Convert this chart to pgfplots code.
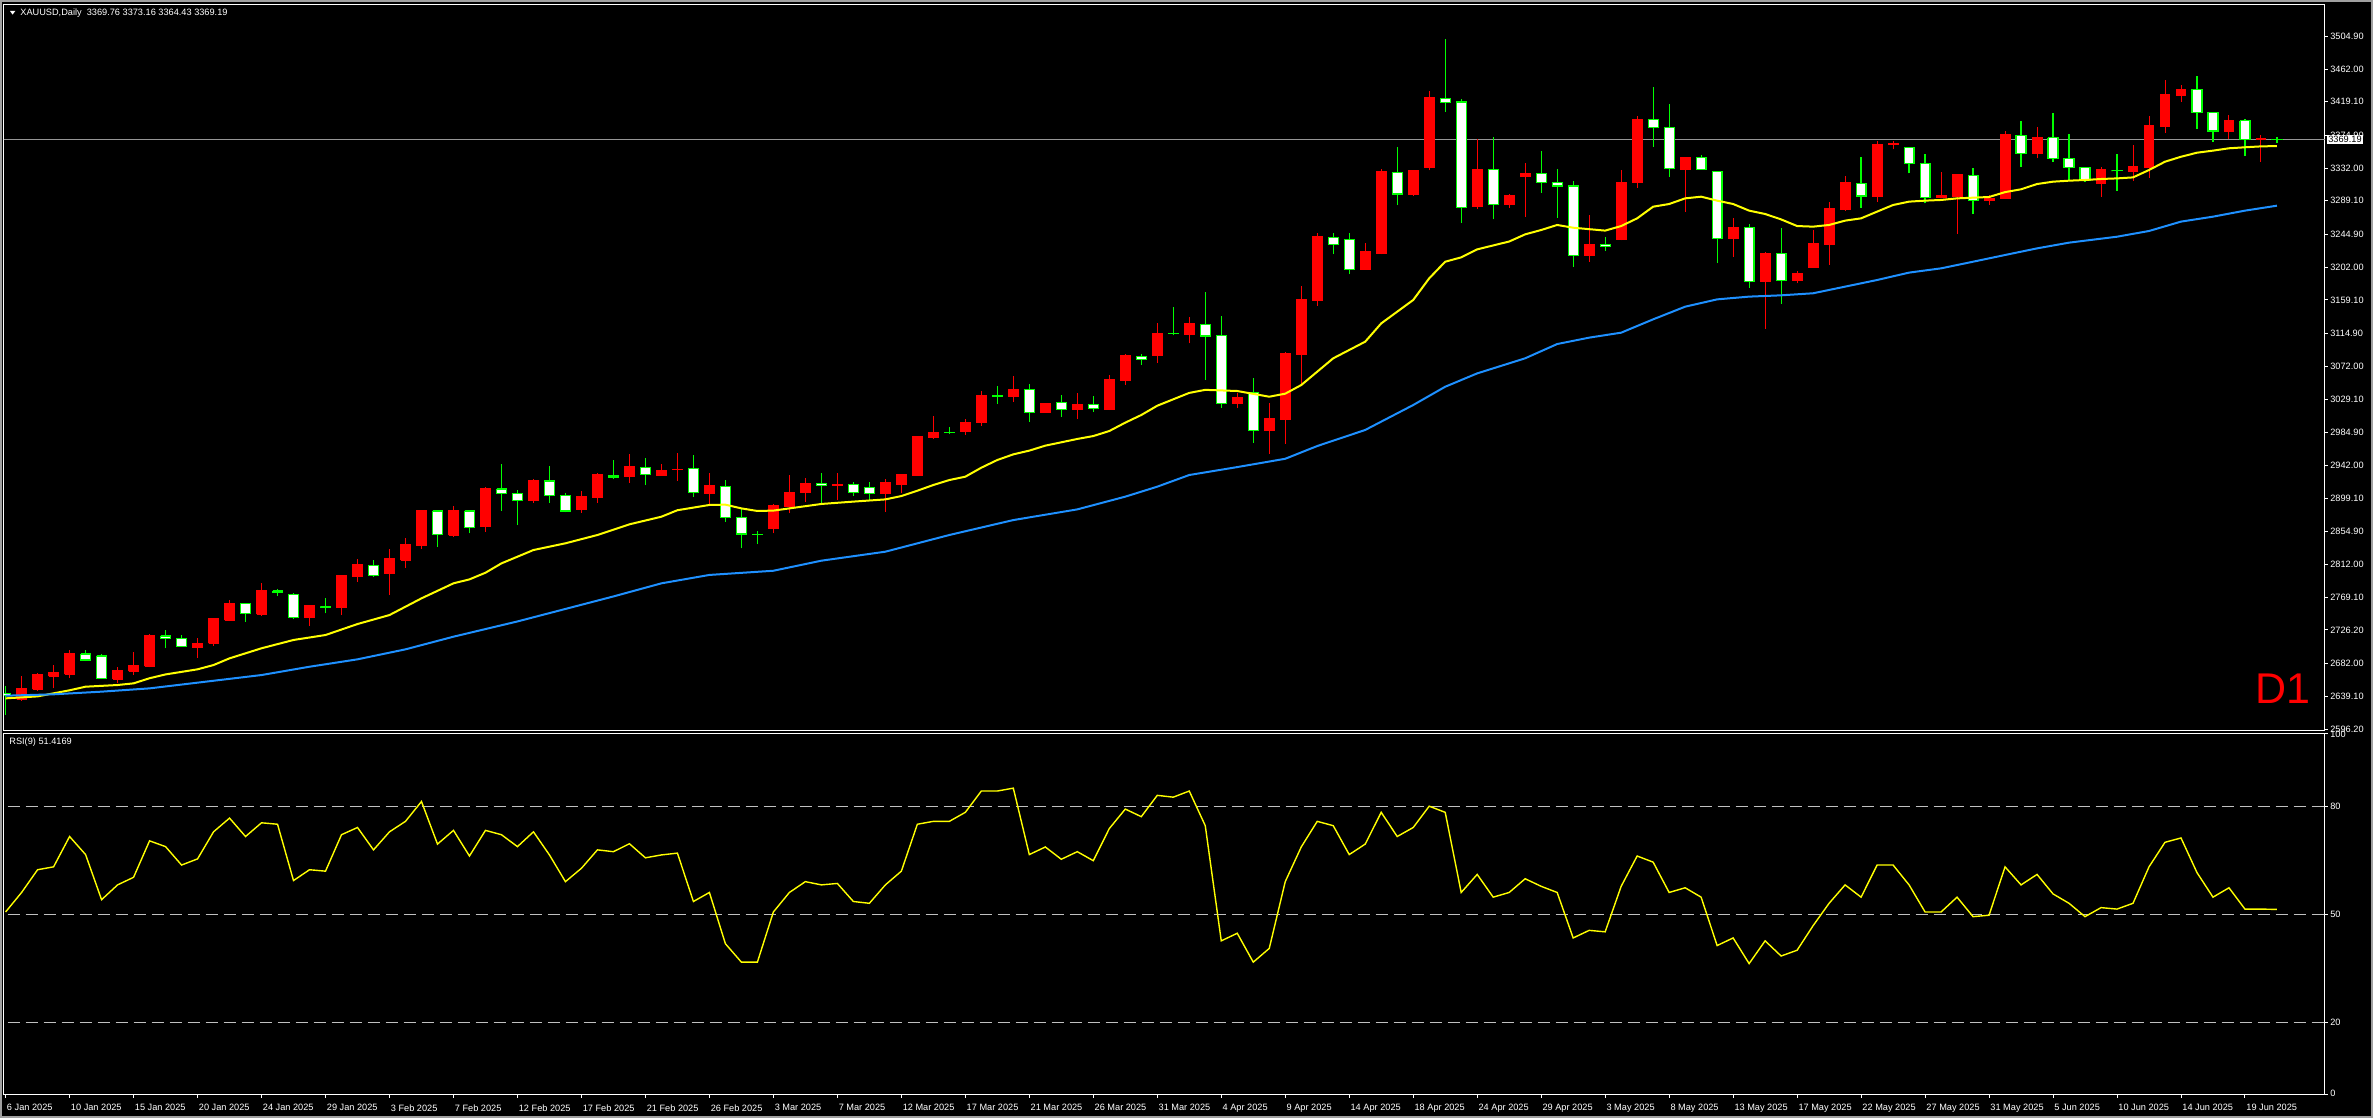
\documentclass[border=0pt]{standalone}
\usepackage{fontspec}
\setmainfont{Liberation Sans}
\usepackage{pgfplots}
\usepackage{pgfplotstable}
\pgfplotsset{compat=1.18}

\definecolor{mtred}{RGB}{255,0,0}
\definecolor{mtgreen}{RGB}{0,255,0}
\definecolor{mtyellow}{RGB}{255,255,0}
\definecolor{mtblue}{RGB}{30,144,255}
\definecolor{pline}{RGB}{150,150,150}
\definecolor{lvl}{RGB}{192,192,192}
\definecolor{edge}{RGB}{160,160,160}
\newcommand{\lbl}{\fontsize{4.6pt}{5pt}\selectfont}

% daily candles, bar index from 6 Jan 2025
\pgfplotstableread{
i o h l c
0 2643.0 2652.0 2615.0 2640.0
1 2635.0 2665.9 2633.3 2649.6
2 2648.2 2670.2 2646.4 2667.1
3 2665.7 2680.2 2649.4 2669.7
4 2668.3 2699.9 2663.4 2694.6
5 2694.5 2699.8 2685.3 2686.6
6 2692.0 2694.6 2661.7 2662.1
7 2661.8 2677.1 2656.0 2673.6
8 2672.2 2697.3 2666.9 2679.7
9 2678.7 2721.0 2676.9 2718.4
10 2718.3 2726.2 2702.0 2714.7
11 2715.2 2719.1 2704.1 2704.6
12 2702.9 2716.2 2689.7 2708.7
13 2708.5 2742.4 2704.9 2740.6
14 2739.1 2765.5 2737.8 2761.1
15 2761.1 2762.0 2736.9 2747.9
16 2746.9 2788.3 2744.7 2777.3
17 2777.2 2779.4 2770.6 2775.4
18 2773.0 2774.3 2740.8 2742.1
19 2742.1 2758.5 2731.1 2757.6
20 2756.7 2767.7 2747.9 2756.2
21 2755.2 2798.3 2745.5 2797.0
22 2795.9 2819.3 2789.3 2811.4
23 2810.9 2817.5 2795.9 2797.3
24 2799.9 2832.5 2771.7 2819.3
25 2817.8 2846.9 2807.6 2837.6
26 2836.5 2883.7 2832.1 2882.3
27 2882.3 2882.9 2835.2 2851.1
28 2850.6 2888.9 2848.5 2882.3
29 2882.2 2883.6 2852.7 2860.2
30 2861.4 2914.3 2854.8 2912.1
31 2911.0 2944.0 2882.4 2905.3
32 2905.5 2909.9 2863.6 2895.8
33 2895.6 2924.2 2892.9 2921.6
34 2921.6 2941.4 2892.9 2902.6
35 2902.4 2905.5 2880.4 2882.1
36 2883.9 2908.6 2879.9 2900.6
37 2899.5 2931.7 2892.9 2929.5
38 2928.1 2949.2 2924.1 2925.9
39 2927.2 2957.1 2919.3 2940.4
40 2939.5 2951.4 2916.2 2930.3
41 2929.4 2943.9 2928.5 2934.7
42 2936.4 2958.8 2921.8 2937.2
43 2938.2 2955.8 2900.9 2906.5
44 2905.3 2931.7 2891.2 2915.0
45 2914.3 2923.1 2868.0 2873.8
46 2874.0 2884.5 2833.0 2851.9
47 2851.6 2856.0 2838.8 2851.3
48 2858.9 2891.5 2852.7 2888.8
49 2887.7 2929.6 2879.0 2907.1
50 2906.2 2925.5 2893.8 2918.9
51 2918.5 2932.1 2892.0 2915.8
52 2915.4 2932.1 2896.5 2917.6
53 2917.2 2920.3 2902.2 2906.6
54 2913.2 2920.3 2896.9 2905.3
55 2904.5 2924.3 2881.1 2919.0
56 2917.6 2930.8 2905.3 2929.5
57 2928.3 2979.4 2928.3 2979.4
58 2978.3 3007.0 2976.6 2985.8
59 2985.4 2992.4 2983.2 2985.1
60 2986.2 3002.9 2981.8 2998.9
61 2998.0 3039.8 2994.0 3033.2
62 3033.0 3046.2 3022.9 3032.7
63 3032.1 3059.4 3025.5 3041.8
64 3041.9 3048.5 2999.2 3011.5
65 3011.2 3023.5 3011.2 3022.6
66 3024.3 3034.4 3005.8 3015.5
67 3015.1 3036.6 3002.7 3022.5
68 3022.1 3033.1 3012.4 3016.8
69 3015.8 3060.7 3014.5 3054.1
70 3053.1 3088.3 3047.3 3085.6
71 3085.1 3088.2 3074.1 3081.1
72 3085.8 3128.5 3076.5 3115.3
73 3115.2 3150.0 3112.5 3114.9
74 3113.9 3137.2 3102.0 3127.5
75 3127.2 3169.9 3054.5 3111.8
76 3112.0 3138.4 3017.3 3023.0
77 3023.4 3037.5 3016.8 3030.5
78 3038.0 3056.5 2971.5 2988.3
79 2987.5 3023.6 2957.5 3002.9
80 3002.1 3090.3 2970.4 3088.9
81 3087.1 3177.0 3049.2 3159.4
82 3157.8 3246.3 3151.2 3241.9
83 3241.3 3247.4 3219.2 3232.0
84 3238.7 3247.5 3192.9 3199.1
85 3198.6 3234.3 3198.6 3222.0
86 3220.3 3330.4 3218.9 3327.3
87 3326.5 3359.2 3283.4 3297.9
88 3297.0 3328.3 3295.7 3328.3
89 3332.2 3432.6 3329.1 3424.3
90 3423.4 3501.8 3405.8 3418.1
91 3418.8 3422.8 3259.8 3280.1
92 3281.2 3370.2 3278.1 3330.5
93 3330.5 3372.4 3264.9 3284.7
94 3284.5 3298.6 3280.1 3296.3
95 3320.8 3339.3 3268.0 3325.2
96 3324.7 3354.6 3299.6 3313.2
97 3313.0 3331.1 3266.8 3308.6
98 3308.4 3315.5 3202.3 3217.3
99 3217.5 3270.8 3209.1 3232.0
100 3232.0 3241.3 3223.6 3229.4
101 3238.7 3329.8 3237.3 3313.5
102 3312.6 3400.7 3306.0 3396.3
103 3396.0 3438.3 3359.9 3385.4
104 3385.6 3416.4 3320.4 3331.4
105 3330.0 3346.3 3274.5 3346.3
106 3346.2 3348.8 3330.3 3330.3
107 3327.7 3327.7 3207.5 3239.6
108 3239.4 3266.3 3215.6 3254.4
109 3254.6 3258.5 3174.9 3183.7
110 3183.4 3221.7 3121.3 3220.4
111 3220.3 3253.4 3154.3 3184.6
112 3184.3 3197.5 3180.8 3194.0
113 3201.7 3251.1 3201.7 3232.6
114 3231.4 3287.8 3205.0 3278.5
115 3277.3 3321.8 3276.0 3312.6
116 3312.0 3346.8 3279.9 3295.3
117 3294.3 3367.0 3287.7 3362.6
118 3362.7 3367.6 3356.6 3364.5
119 3359.4 3359.4 3325.0 3338.3
120 3338.5 3350.8 3285.6 3293.5
121 3293.6 3326.7 3293.6 3296.7
122 3295.4 3323.1 3246.0 3323.1
123 3322.7 3332.4 3271.6 3289.7
124 3289.7 3296.7 3283.9 3292.7
125 3291.6 3380.1 3291.6 3375.7
126 3375.0 3394.0 3333.6 3351.3
127 3351.3 3385.6 3344.6 3372.4
128 3372.0 3404.1 3340.2 3344.6
129 3344.8 3377.0 3316.2 3333.0
130 3333.1 3333.1 3314.1 3316.3
131 3312.0 3333.2 3294.4 3329.6
132 3328.7 3350.2 3302.2 3328.5
133 3328.1 3362.5 3315.3 3334.7
134 3332.8 3400.6 3319.1 3387.4
135 3386.2 3448.1 3378.3 3428.0
136 3427.0 3441.1 3419.0 3435.3
137 3435.4 3453.0 3383.0 3405.0
138 3405.2 3405.2 3366.5 3380.6
139 3379.8 3401.8 3369.7 3393.9
140 3394.0 3396.2 3347.7 3369.8
141 3369.8 3375.5 3340.2 3371.1
142 3369.76 3373.16 3364.43 3369.19
}\ohlc

% fast moving average (yellow)
\pgfplotstableread{
i v
0 2636.4
2 2639
4 2647
5 2651.7
7 2653.9
8 2656.1
9 2662.8
10 2667.8
12 2674.5
13 2680.1
14 2688.9
16 2702.1
18 2713
20 2719.5
22 2733.9
24 2745.7
26 2767.6
28 2787.3
29 2792.5
30 2801.2
31 2813.5
33 2831
35 2839.8
37 2850.7
39 2864.7
41 2874.7
42 2883.2
44 2890.1
45 2890.5
46 2885.6
47 2882.2
48 2882.7
49 2885.6
51 2891.4
53 2894.5
55 2897.4
56 2901.8
57 2908.8
58 2916.3
59 2922.8
60 2927.2
61 2939
62 2949.1
63 2956.5
64 2961.4
65 2967.9
66 2972.3
67 2976.7
68 2980.5
69 2987.1
70 2998.1
71 3008.1
72 3020.3
74 3037.1
75 3041.1
77 3039.6
79 3032.1
80 3036.1
81 3047.4
83 3082.5
85 3104.3
86 3128.3
88 3159
89 3187.4
90 3209.2
91 3214.9
92 3225.4
94 3235.7
95 3245.1
96 3250.8
97 3257.4
98 3253.8
100 3250
101 3256
102 3266.1
103 3281.4
104 3284.9
105 3292.3
106 3294.5
107 3289.3
108 3284.9
109 3276.2
110 3271.8
111 3264.7
112 3256
113 3255.2
114 3257.4
115 3263.1
116 3266.1
117 3274.9
118 3283.6
119 3288
120 3289.3
121 3290.2
122 3292.3
123 3293.2
124 3294.1
125 3300.5
126 3304.2
127 3311.1
128 3314.2
129 3315.5
130 3316.4
131 3317.7
132 3318.5
133 3319.8
134 3329.5
135 3340.4
136 3346.9
137 3352.2
138 3354.9
139 3358
140 3359.3
141 3360.5
142 3360.9
}\emafast

% slow moving average (blue)
\pgfplotstableread{
i v
0 2639.9
3 2641.7
6 2645.2
9 2649.5
12 2657
16 2667
19 2677.9
22 2687.6
25 2700.7
28 2717.3
32 2737.3
35 2753.7
38 2770.1
41 2787.3
44 2798.3
48 2803.8
51 2817
55 2828.8
59 2850.7
63 2870.3
67 2884.3
70 2901
72 2914.1
74 2929.4
77 2939.8
80 2950.7
82 2967.4
85 2988.5
88 3021.2
90 3045.2
92 3062.7
95 3082.5
97 3101.2
99 3109.6
101 3116.1
103 3133.6
105 3150.2
107 3159.8
109 3163.4
111 3165.1
113 3167.8
115 3176.5
117 3185.2
119 3194.9
121 3200.5
123 3209.2
125 3218
127 3226.7
129 3234.2
132 3242
134 3249.5
136 3261.8
138 3268.3
140 3276.2
142 3282.7
}\emaslow

% RSI(9)
\pgfplotstableread{
i v
0 50.7
1 56.1
2 62.4
3 63.2
4 71.6
5 66.6
6 54.1
7 58.2
8 60.3
9 70.4
10 68.8
11 63.7
12 65.4
13 72.9
14 76.7
15 71.6
16 75.4
17 75.0
18 59.4
19 62.4
20 62.0
21 72.1
22 74.1
23 67.9
24 72.9
25 75.8
26 81.3
27 69.5
28 73.3
29 66.2
30 73.3
31 72.1
32 68.8
33 72.9
34 66.5
35 59.1
36 62.8
37 67.9
38 67.4
39 69.6
40 65.7
41 66.5
42 67.0
43 53.6
44 56.1
45 41.9
46 36.8
47 36.8
48 50.7
49 56.1
50 59.1
51 58.2
52 58.6
53 53.6
54 53.1
55 58.2
56 62.0
57 75.0
58 75.8
59 75.8
60 78.3
61 84.2
62 84.2
63 85.0
64 66.6
65 68.7
66 65.3
67 67.4
68 64.9
69 73.8
70 79.2
71 77.1
72 83.0
73 82.5
74 84.2
75 74.6
76 42.7
77 44.8
78 36.8
79 40.6
80 59.1
81 68.7
82 75.8
83 74.6
84 66.6
85 69.5
86 78.3
87 71.6
88 74.1
89 80.0
90 78.3
91 56.1
92 61.1
93 54.8
94 56.1
95 59.9
96 57.8
97 56.1
98 43.5
99 45.6
100 45.2
101 57.8
102 66.2
103 64.5
104 56.1
105 57.4
106 54.8
107 41.4
108 43.5
109 36.4
110 42.7
111 38.5
112 40.1
113 46.9
114 53.1
115 58.2
116 54.8
117 63.7
118 63.7
119 58.2
120 50.7
121 50.7
122 54.8
123 49.4
124 49.8
125 63.2
126 58.2
127 61.1
128 55.7
129 53.1
130 49.4
131 51.9
132 51.5
133 53.1
134 63.2
135 70.0
136 71.2
137 61.6
138 54.8
139 57.4
140 51.5
141 51.5
142 51.4
}\rsi

\pgfplotsset{
  mt/.style={
    scale only axis, anchor=south west, width=1160.5pt,
    xmin=-0.1, xmax=145,
    axis line style={white, line width=0.5pt},
    tick style={white, line width=0.5pt},
    tick align=outside, major tick length=1.5pt,
    ticklabel style={font=\lbl, text=white, inner sep=0pt},
    ytick pos=right, yticklabel pos=right,
    yticklabel style={anchor=west}, yticklabel shift=1pt,
    clip mode=individual,
  },
  bull/.style={draw=mtred, line width=0.5pt},
  bear/.style={draw=mtgreen, line width=0.6pt},
  bullbody/.style={draw=mtred, fill=mtred, line width=0.5pt},
  bearbody/.style={draw=mtgreen, fill=white, line width=0.6pt},
}

\begin{document}
\begin{tikzpicture}
\fill[black] (0,0) rectangle (1186.5pt,559pt);

\begin{axis}[mt, at={(2pt,193.5pt)}, height=363pt,
  ymin=2593.6, ymax=3546.0, xtick=\empty,
  ytick={2596.2,2639.1,2682.0,2726.2,2769.1,2812.0,2854.9,2899.1,2942.0,2984.9,3029.1,3072.0,3114.9,3159.1,3202.0,3244.9,3289.1,3332.0,3374.9,3419.1,3462.0,3504.9},
  yticklabels={2596.20,2639.10,2682.00,2726.20,2769.10,2812.00,2854.90,2899.10,2942.00,2984.90,3029.10,3072.00,3114.90,3159.10,3202.00,3244.90,3289.10,3332.00,3374.90,3419.10,3462.00,3504.90}]
\addplot[pline, line width=0.5pt] coordinates {(-1,3369.19) (146,3369.19)};
\pgfplotsinvokeforeach{0,...,142}{%
  \pgfplotstablegetelem{#1}{o}\of\ohlc \let\vo\pgfplotsretval
  \pgfplotstablegetelem{#1}{h}\of\ohlc \let\vh\pgfplotsretval
  \pgfplotstablegetelem{#1}{l}\of\ohlc \let\vl\pgfplotsretval
  \pgfplotstablegetelem{#1}{c}\of\ohlc \let\vc\pgfplotsretval
  \pgfmathsetmacro\xa{#1-0.31}%
  \pgfmathsetmacro\xb{#1+0.31}%
  \ifdim\vc pt>\vo pt \def\cs{bull}\else\def\cs{bear}\fi
  \edef\tmp{\noexpand\addplot[\cs] coordinates {(#1,\vl) (#1,\vh)};
    \noexpand\addplot[\cs body] coordinates {(\xa,\vo) (\xb,\vo) (\xb,\vc) (\xa,\vc) (\xa,\vo)};}%
  \tmp
}
\addplot[mtyellow, line width=1pt] table[x=i, y=v] {\emafast};
\addplot[mtblue, line width=1pt] table[x=i, y=v] {\emaslow};
\coordinate (pl) at (axis cs:145,3369.19);
\end{axis}

\begin{axis}[mt, at={(2pt,11.5pt)}, height=180.5pt,
  ymin=0, ymax=100, ytick={0,20,50,80,100},
  yticklabels={\raisebox{1.5pt}{0},20,50,80,\raisebox{-3pt}{100}},
  xtick={0,4,...,140}, xtick pos=left,
  xticklabel style={anchor=north west, xshift=0.5pt, yshift=-3pt},
  xticklabels={6 Jan 2025,10 Jan 2025,15 Jan 2025,20 Jan 2025,24 Jan 2025,29 Jan 2025,3 Feb 2025,7 Feb 2025,12 Feb 2025,17 Feb 2025,21 Feb 2025,26 Feb 2025,3 Mar 2025,7 Mar 2025,12 Mar 2025,17 Mar 2025,21 Mar 2025,26 Mar 2025,31 Mar 2025,4 Apr 2025,9 Apr 2025,14 Apr 2025,18 Apr 2025,24 Apr 2025,29 Apr 2025,3 May 2025,8 May 2025,13 May 2025,17 May 2025,22 May 2025,27 May 2025,31 May 2025,5 Jun 2025,10 Jun 2025,14 Jun 2025,19 Jun 2025}]
\addplot[lvl, dash pattern=on 6pt off 3pt, line width=0.5pt] coordinates {(-1,80) (146,80)};
\addplot[lvl, dash pattern=on 6pt off 3pt, line width=0.5pt] coordinates {(-1,50) (146,50)};
\addplot[lvl, dash pattern=on 6pt off 3pt, line width=0.5pt] coordinates {(-1,20) (146,20)};
\addplot[mtyellow, line width=0.7pt] table[x=i, y=v] {\rsi};
\end{axis}

\node[anchor=west, fill=white, text=black, inner sep=0.5pt, font=\lbl] at ([xshift=1pt]pl) {3369.19};
\fill[white] (5pt,553.5pt) -- (7.65pt,553.5pt) -- (6.3pt,551.7pt) -- cycle;
\node[anchor=west, inner sep=0pt, text=white, font=\lbl] at (10pt,552.6pt) {XAUUSD,Daily\ \ 3369.76 3373.16 3364.43 3369.19};
\node[anchor=west, inner sep=0pt, text=white, font=\lbl] at (4.5pt,188pt) {RSI(9) 51.4169};
\node[anchor=base east, inner sep=0pt, text=mtred, font=\fontsize{21.5pt}{22pt}\selectfont] at (1155.5pt,207pt) {D1};
\draw[edge, line width=1pt] (0.5pt,0.5pt) rectangle (1186pt,558.5pt);
\pgfresetboundingbox
\path (0,0) rectangle (1186.5pt,559pt);
\end{tikzpicture}
\end{document}
